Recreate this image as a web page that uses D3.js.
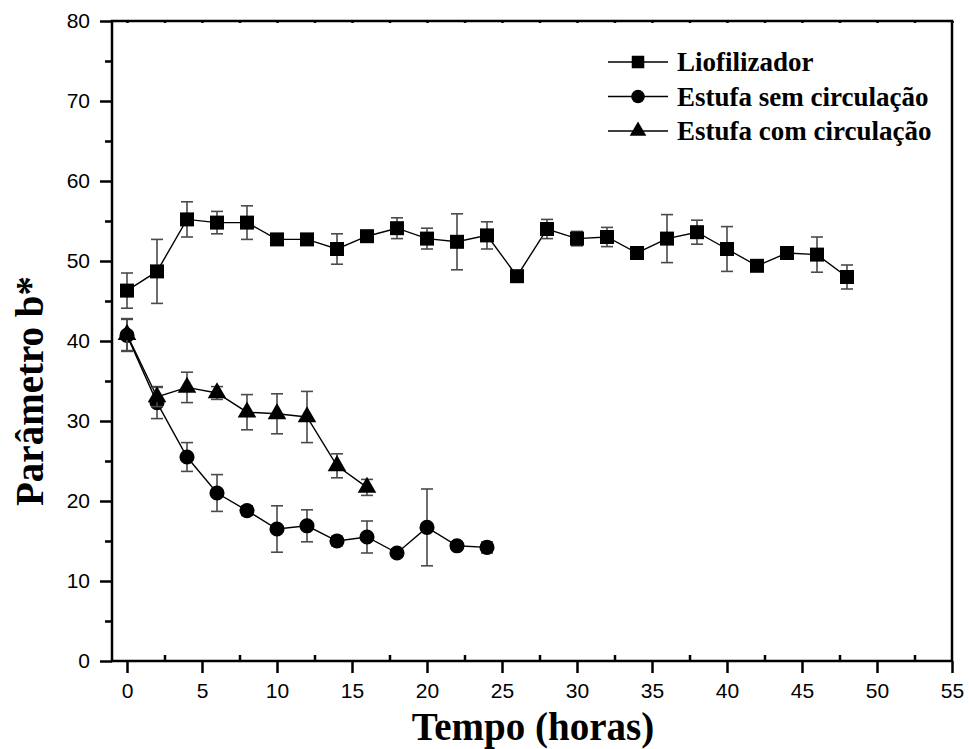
<!DOCTYPE html>
<html>
<head>
<meta charset="utf-8">
<script src="https://cdn.jsdelivr.net/npm/d3@7"></script>
<style>
  html, body { margin: 0; padding: 0; background: #fff; }
  svg { display: block; }
  .tick text { font-family: "Liberation Sans", Arial, sans-serif; font-size: 21px; fill: #000; }
  .title { font-family: "Liberation Serif", "Times New Roman", serif; font-weight: bold; fill: #000; }
</style>
</head>
<body>
<div id="chart"></div>
<script>
// hours sampled for each drying method
const tLio = [0, 2, 4, 6, 8, 10, 12, 14, 16, 18, 20, 22, 24, 26, 28, 30, 32, 34, 36, 38, 40, 42, 44, 46, 48];
const bLio = [46.3, 48.7, 55.2, 54.8, 54.8, 52.7, 52.7, 51.5, 53.1, 54.1, 52.8, 52.4, 53.2, 48.1, 54.0, 52.8, 53.0, 51.0, 52.8, 53.6, 51.5, 49.4, 51.0, 50.8, 48.0];
const eLio = [2.2, 4.0, 2.2, 1.4, 2.1, 0.4, 0.4, 1.9, 0.6, 1.3, 1.3, 3.5, 1.7, 0.3, 1.2, 0.9, 1.2, 0.3, 3.0, 1.5, 2.8, 0.3, 0.5, 2.2, 1.5];

const tSem = [0, 2, 4, 6, 8, 10, 12, 14, 16, 18, 20, 22, 24];
const bSem = [40.7, 32.3, 25.5, 21.0, 18.8, 16.5, 16.9, 15.0, 15.5, 13.5, 16.7, 14.4, 14.2];
const eSem = [2.0, 2.0, 1.8, 2.3, 0.6, 2.9, 2.0, 0.6, 2.0, 0.5, 4.8, 0.5, 0.7];

const tCom = [0, 2, 4, 6, 8, 10, 12, 14, 16];
const bCom = [40.8, 33.0, 34.2, 33.5, 31.1, 30.9, 30.5, 24.4, 21.7];
const eCom = [2.0, 1.2, 1.9, 0.8, 2.2, 2.5, 3.2, 1.5, 1.0];

const series = [
  { name: 'Liofilizador', t: tLio, b: bLio, e: eLio, sym: d3.symbolSquare, size: 196 },
  { name: 'Estufa sem circulação', t: tSem, b: bSem, e: eSem, sym: d3.symbolCircle, size: 180 },
  { name: 'Estufa com circulação', t: tCom, b: bCom, e: eCom, sym: d3.symbolTriangle, size: 150 }
];

const xMajor = d3.range(0, 56, 5);
const xMinor = d3.range(2.5, 55, 5);
const yMajor = d3.range(0, 81, 10);
const yMinor = d3.range(5, 80, 10);

const W = 969, H = 749;
const m = { t: 21, r: 17, b: 88, l: 112 };
const x = d3.scaleLinear().domain([-1, 55]).range([m.l, W - m.r]);
const y = d3.scaleLinear().domain([0, 80]).range([H - m.b, m.t]);

const svg = d3.select('#chart').append('svg').attr('width', W).attr('height', H);

// frame
svg.append('rect').attr('x', x(-1)).attr('y', y(80))
  .attr('width', x(55) - x(-1)).attr('height', y(0) - y(80))
  .attr('fill', 'none').attr('stroke', '#000').attr('stroke-width', 2.5);

const styleAxis = g => {
  g.select('.domain').remove();
  g.selectAll('.tick line').attr('stroke', '#000').attr('stroke-width', 2.5);
};

svg.append('g').attr('transform', `translate(0,${y(0)})`)
  .call(d3.axisBottom(x).tickValues(xMajor).tickSize(12).tickPadding(10).tickSizeOuter(0))
  .call(styleAxis);
svg.append('g').attr('transform', `translate(0,${y(0)})`)
  .call(d3.axisBottom(x).tickValues(xMinor).tickSize(-6).tickFormat('').tickSizeOuter(0))
  .call(styleAxis);
svg.append('g').attr('transform', `translate(0,${y(80)})`)
  .call(d3.axisBottom(x).tickValues(xMajor.concat(xMinor)).tickSize(2).tickFormat('').tickSizeOuter(0))
  .call(styleAxis);
svg.append('g').attr('transform', `translate(${x(-1)},0)`)
  .call(d3.axisLeft(y).tickValues(yMajor).tickSize(12).tickPadding(10).tickSizeOuter(0))
  .call(styleAxis);
svg.append('g').attr('transform', `translate(${x(-1)},0)`)
  .call(d3.axisLeft(y).tickValues(yMinor).tickSize(7).tickFormat('').tickSizeOuter(0))
  .call(styleAxis);

// data
series.forEach(s => {
  const pts = s.t.map((t, i) => ({ t, b: s.b[i], e: s.e[i] }));
  const g = svg.append('g');
  g.append('path').datum(pts)
    .attr('d', d3.line().x(d => x(d.t)).y(d => y(d.b)))
    .attr('fill', 'none').attr('stroke', '#000').attr('stroke-width', 1.4);
  const eb = g.selectAll('g.err').data(pts).join('g').attr('class', 'err')
    .attr('stroke', '#4a4a4a').attr('stroke-width', 1.6);
  eb.append('line').attr('x1', d => x(d.t)).attr('x2', d => x(d.t))
    .attr('y1', d => y(d.b - d.e)).attr('y2', d => y(d.b + d.e));
  eb.append('line').attr('x1', d => x(d.t) - 6).attr('x2', d => x(d.t) + 6)
    .attr('y1', d => y(d.b + d.e)).attr('y2', d => y(d.b + d.e));
  eb.append('line').attr('x1', d => x(d.t) - 6).attr('x2', d => x(d.t) + 6)
    .attr('y1', d => y(d.b - d.e)).attr('y2', d => y(d.b - d.e));
  g.selectAll('path.pt').data(pts).join('path').attr('class', 'pt')
    .attr('transform', d => `translate(${x(d.t)},${y(d.b)})`)
    .attr('d', d3.symbol(s.sym, s.size)).attr('fill', '#000');
});

// legend
const leg = svg.append('g').attr('transform', 'translate(608,62)');
series.forEach((s, i) => {
  const r = leg.append('g').attr('transform', `translate(0,${i * 34.5})`);
  r.append('line').attr('x1', 0).attr('x2', 60).attr('stroke', '#000').attr('stroke-width', 1.4);
  r.append('path').attr('transform', 'translate(30,0)')
    .attr('d', d3.symbol(s.sym, s.size * 0.8)).attr('fill', '#000');
  r.append('text').attr('class', 'title').attr('x', 69).attr('y', 9)
    .style('font-size', '27px').text(s.name);
});

// axis titles
svg.append('text').attr('class', 'title').attr('x', 533).attr('y', 740)
  .attr('text-anchor', 'middle').style('font-size', '39px').text('Tempo (horas)');
svg.append('text').attr('class', 'title')
  .attr('transform', `translate(43,391) rotate(-90)`)
  .attr('text-anchor', 'middle').style('font-size', '39px').text('Parâmetro b*');
</script>
</body>
</html>
